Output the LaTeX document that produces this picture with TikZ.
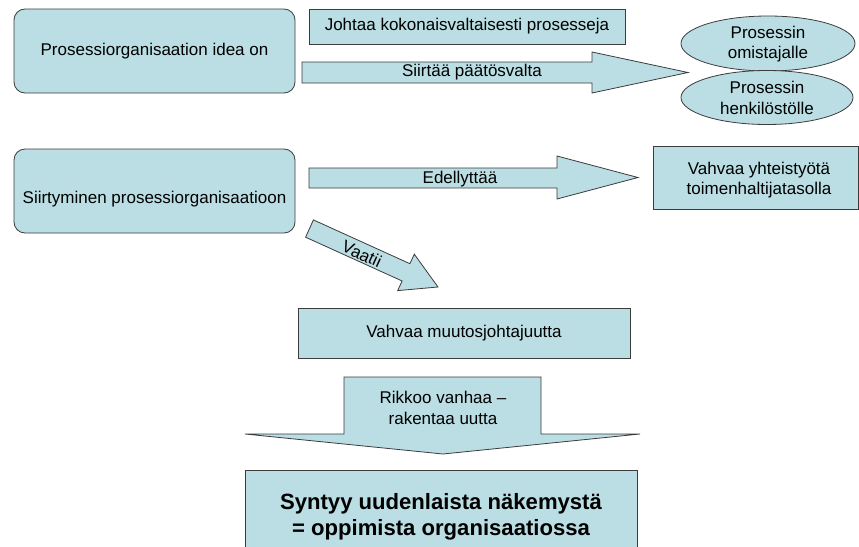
\documentclass[tikz,border=0pt]{standalone}
\usepackage{fontspec}
\setmainfont{Liberation Sans}
\usetikzlibrary{shapes.geometric}
\definecolor{boxfill}{RGB}{186,222,227}
\definecolor{boxline}{RGB}{60,60,60}
\tikzset{
  shapebase/.style={fill=boxfill, draw=boxline, line width=0.8pt, line join=miter},
  roundbox/.style={shapebase, rounded corners=11pt},
  flatbox/.style={shapebase},
  blockarrow/.style={shapebase},
  txt/.style={font=\fontsize{17}{20.5}\selectfont, align=center, inner sep=0pt},
  bigtxt/.style={font=\fontsize{22.1}{25.5}\selectfont\bfseries, align=center, inner sep=0pt},
}
\begin{document}
\begin{tikzpicture}[x=1pt,y=-1pt]
  \useasboundingbox (0,0) rectangle (859,546);
  \fill[white] (0,0) rectangle (859,546);

  % --- first row: idea of the process organisation
  \draw[roundbox] (14,9) rectangle (295,93);
  \node[txt] (idea) at (154.5,51) {Prosessiorganisaation idea on};

  \draw[flatbox] (309,9) rectangle (625,44);
  \node[txt] (johtaa) at (467,26.5) {Johtaa kokonaisvaltaisesti prosesseja};

  \draw[blockarrow] (302,62) -- (592,62) -- (592,52) -- (688,72.5)
                    -- (592,93) -- (592,83) -- (302,83) -- cycle;
  \node[txt] (siirtaa) at (472,72) {Siirtää päätösvalta};

  \draw[shapebase] (768,43.5) ellipse [x radius=87, y radius=27.5];
  \node[txt] (omistaja) at (768,44) {Prosessin\\omistajalle};
  \draw[shapebase] (767,97.5) ellipse [x radius=86, y radius=27];
  \node[txt] (henkilosto) at (767,98) {Prosessin\\henkilöstölle};

  % --- second row: transition to the process organisation
  \draw[roundbox] (14,149) rectangle (295,233);
  \node[txt] (siirtyminen) at (154.5,199) {Siirtyminen prosessiorganisaatioon};

  \draw[blockarrow] (309,168) -- (557,168) -- (557,156) -- (638,177.5)
                    -- (557,199) -- (557,188) -- (309,188) -- cycle;
  \node[txt] (edellyttaa) at (460,179) {Edellyttää};

  \draw[flatbox] (653,146) rectangle (858,209);
  \node[txt] (yhteistyo) at (759,180) {Vahvaa yhteistyötä\\toimenhaltijatasolla};

  % --- diagonal arrow down to change leadership
  \draw[blockarrow] (313.4,219.9) -- (409.9,263.7) -- (414.3,254.2) -- (438,287)
                    -- (397.7,290.6) -- (402.1,281.0) -- (305.6,237.2) -- cycle;
  \node[txt, rotate=-24.5] (vaatii) at (362,254) {Vaatii};

  \draw[flatbox] (298,308) rectangle (630,358);
  \node[txt] (muutos) at (464,333) {Vahvaa muutosjohtajuutta};

  % --- downward arrow and result
  \draw[blockarrow] (344,377) -- (541,377) -- (541,434) -- (640,434) -- (443,454)
                    -- (245,434) -- (344,434) -- cycle;
  \node[txt] (rikkoo) at (443,408) {Rikkoo vanhaa –\\rakentaa uutta};

  \draw[flatbox] (245,470) rectangle (637,560);
  \node[bigtxt] (syntyy) at (441,517) {Syntyy uudenlaista näkemystä\\= oppimista organisaatiossa};
\end{tikzpicture}
\end{document}
